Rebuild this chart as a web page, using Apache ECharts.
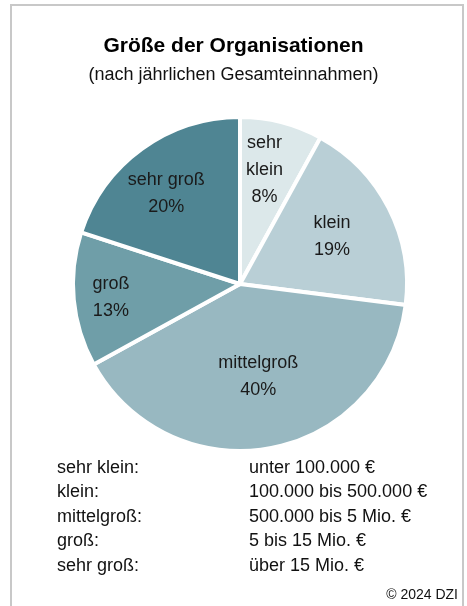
<!DOCTYPE html>
<html>
<head>
<meta charset="utf-8">
<script src="https://cdn.jsdelivr.net/npm/echarts@6/dist/echarts.min.js"></script>
<style>
html,body{margin:0;padding:0;background:#fff;}
#c{width:467px;height:606px;}
</style>
</head>
<body>
<div id="c"></div>
<script>
const titleText = 'Größe der Organisationen';
const subtitleText = '(nach jährlichen Gesamteinnahmen)';
const categories = ['sehr klein', 'klein', 'mittelgroß', 'groß', 'sehr groß'];
const sliceLabels = ['sehr\nklein', 'klein', 'mittelgroß', 'groß', 'sehr groß'];
const shares = [8, 19, 40, 13, 20];
const sliceColors = ['#dce8ea', '#b9cfd6', '#98b8c1', '#6f9ea8', '#4f8593'];
const labelOffsets = [[3, -30], [15, -8], [2, 8], [-43, 5], [-23, -20]];
const rangeNames = ['sehr klein:', 'klein:', 'mittelgroß:', 'groß:', 'sehr groß:'];
const rangeTexts = ['unter 100.000 €', '100.000 bis 500.000 €', '500.000 bis 5 Mio. €', '5 bis 15 Mio. €', 'über 15 Mio. €'];
const copyrightText = '© 2024 DZI';

const FONT = '"Liberation Sans", Arial, sans-serif';
const chart = echarts.init(document.getElementById('c'), null, {renderer: 'canvas'});

const graphics = [
  {type: 'polyline', shape: {points: [[11, 606], [11, 5], [463, 5], [463, 606]]},
   style: {stroke: '#c8c8c8', lineWidth: 2, fill: null}, silent: true}
];
rangeNames.forEach((n, i) => {
  const y = 470 + i * 24.5;
  graphics.push({type: 'text', left: 57, top: y - 11,
    style: {text: n, font: '18px ' + FONT, fill: '#111'}});
  graphics.push({type: 'text', left: 249, top: y - 11,
    style: {text: rangeTexts[i], font: '18px ' + FONT, fill: '#111'}});
});
graphics.push({type: 'text', right: 9, top: 588,
  style: {text: copyrightText, font: '14px ' + FONT, fill: '#111'}});

chart.setOption({
  animation: false,
  backgroundColor: '#fff',
  title: [
    {text: titleText, left: 'center', top: 31,
     textStyle: {fontFamily: FONT, fontSize: 21, fontWeight: 'bold', color: '#000'}},
    {text: subtitleText, left: 'center', top: 61,
     textStyle: {fontFamily: FONT, fontSize: 18, fontWeight: 'normal', color: '#111'}}
  ],
  graphic: graphics,
  series: [{
    type: 'pie',
    center: [240, 284],
    radius: [0, 167],
    startAngle: 90,
    clockwise: true,
    avoidLabelOverlap: false,
    itemStyle: {borderColor: '#fff', borderWidth: 4},
    labelLine: {show: false},
    label: {position: 'inside', fontFamily: FONT, fontSize: 18, color: '#1a1a1a', lineHeight: 27, align: 'center'},
    emphasis: {disabled: true},
    data: categories.map((c, i) => ({
      name: c, value: shares[i],
      itemStyle: {color: sliceColors[i]},
      label: {formatter: sliceLabels[i] + '\n' + shares[i] + '%', offset: labelOffsets[i]}
    }))
  }]
});
</script>
</body>
</html>
